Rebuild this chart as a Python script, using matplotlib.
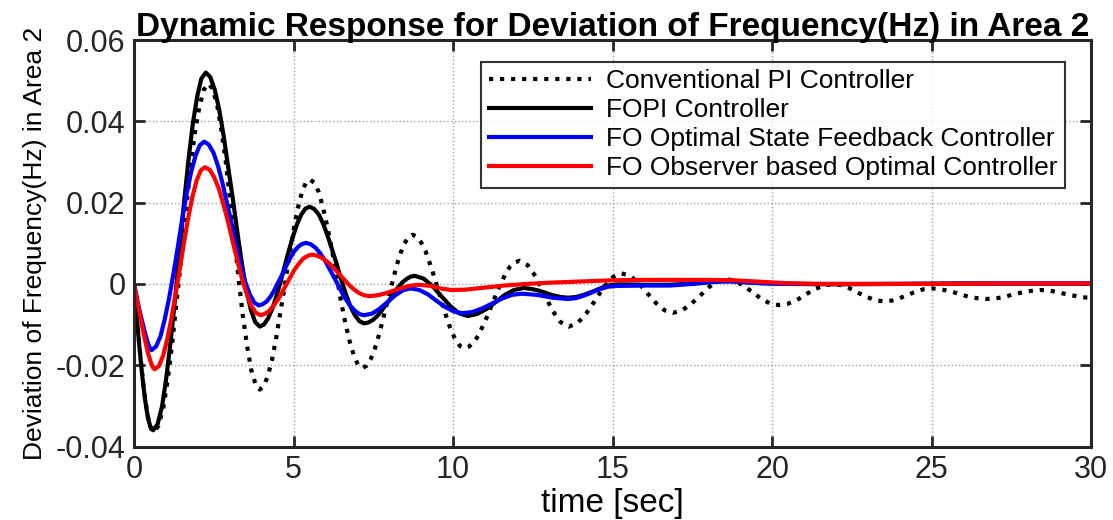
import matplotlib
matplotlib.use("Agg")
import matplotlib.pyplot as plt

# time / value pairs (deviation of frequency, area 2)
t_pi = [0, 0.05, 0.1, 0.15, 0.2, 0.25, 0.3, 0.35, 0.4, 0.45, 0.5, 0.56, 0.62,
        0.76, 0.91, 1.05, 1.19, 1.33, 1.48, 1.62, 1.76, 1.9, 2.05, 2.19, 2.33,
        2.46, 2.6, 2.73, 2.87, 3.0, 3.14, 3.27, 3.4, 3.54, 3.67, 3.81, 3.94,
        4.07, 4.2, 4.33, 4.46, 4.59, 4.73, 4.86, 4.99, 5.12, 5.25, 5.38, 5.51,
        5.65, 5.79, 5.92, 6.06, 6.2, 6.34, 6.47, 6.61, 6.75, 6.89, 7.02, 7.16,
        7.29, 7.42, 7.55, 7.68, 7.81, 7.95, 8.08, 8.21, 8.34, 8.47, 8.6, 8.73,
        8.87, 9.0, 9.14, 9.27, 9.41, 9.55, 9.68, 9.82, 9.95, 10.09, 10.22, 10.36,
        10.5, 10.65, 10.79, 10.93, 11.08, 11.22, 11.36, 11.51, 11.65, 11.79, 11.94, 12.08,
        12.34, 12.6, 12.86, 13.11, 13.37, 13.63,
        13.91, 14.18, 14.46, 14.73, 15.01, 15.28,
        15.55, 15.82, 16.09, 16.36, 16.63, 16.9,
        17.18, 17.45, 17.73, 18.0, 18.28, 18.55,
        18.83, 19.1, 19.38, 19.65, 19.93, 20.2,
        20.48, 20.77, 21.05, 21.33, 21.62, 21.9,
        22.17, 22.43, 22.7, 22.97, 23.23, 23.5,
        23.75, 24.0, 24.25, 24.5, 24.75, 25.0,
        25.28, 25.57, 25.85, 26.13, 26.42, 26.7,
        26.98, 27.27, 27.55, 27.83, 28.12, 28.4,
        28.67, 28.93, 29.2, 29.47, 29.73, 30.0]
pi_ctrl = [0, -0.0046, -0.0091, -0.0135, -0.0177, -0.0216, -0.0251, -0.0283, -0.0310, -0.0332, -0.0348, -0.0361, -0.0365,
           -0.0350, -0.0308, -0.0240, -0.0151, -0.0047, 0.0064, 0.0175, 0.0279, 0.0368, 0.0436, 0.0478, 0.0493,
           0.0480, 0.0443, 0.0383, 0.0305, 0.0214, 0.0117, 0.0019, -0.0072, -0.0150, -0.0210, -0.0247, -0.0260,
           -0.0251, -0.0225, -0.0185, -0.0131, -0.0068, -0.0002, 0.0065, 0.0128, 0.0182, 0.0222, 0.0248, 0.0257,
           0.0249, 0.0226, 0.0189, 0.0141, 0.0085, 0.0025, -0.0035, -0.0091, -0.0139, -0.0176, -0.0199, -0.0207,
           -0.0201, -0.0185, -0.0159, -0.0125, -0.0085, -0.0043, -0.0001, 0.0039, 0.0073, 0.0099, 0.0115, 0.0121,
           0.0116, 0.0102, 0.0080, 0.0051, 0.0017, -0.0019, -0.0054, -0.0088, -0.0117, -0.0139, -0.0153, -0.0158,
           -0.0154, -0.0144, -0.0127, -0.0104, -0.0078, -0.0051, -0.0023, 0.0003, 0.0026, 0.0043, 0.0053, 0.0057,
           0.0046, 0.0017, -0.0024, -0.0065, -0.0094, -0.0105,
           -0.0096, -0.0072, -0.0040, -0.0007, 0.0017, 0.0026,
           0.0020, 0.0002, -0.0023, -0.0047, -0.0065, -0.0071,
           -0.0065, -0.0050, -0.0030, -0.0009, 0.0006, 0.0012,
           0.0008, -0.0004, -0.0020, -0.0036, -0.0048, -0.0052,
           -0.0049, -0.0040, -0.0026, -0.0013, -0.0004, 0.0000,
           -0.0003, -0.0011, -0.0022, -0.0032, -0.0040, -0.0043,
           -0.0041, -0.0035, -0.0027, -0.0019, -0.0013, -0.0011,
           -0.0013, -0.0018, -0.0024, -0.0031, -0.0035, -0.0037,
           -0.0036, -0.0032, -0.0026, -0.0021, -0.0017, -0.0015,
           -0.0016, -0.0020, -0.0025, -0.0029, -0.0033, -0.0034]

t_fopi = [0, 0.05, 0.1, 0.15, 0.2, 0.25, 0.3, 0.35, 0.4, 0.45, 0.5, 0.55, 0.6,
          0.74, 0.88, 1.01, 1.15, 1.29, 1.43, 1.56, 1.7, 1.84, 1.98, 2.11, 2.25,
          2.39, 2.53, 2.67, 2.81, 2.95, 3.1, 3.24, 3.38, 3.52, 3.66, 3.8, 3.94,
          4.07, 4.2, 4.33, 4.46, 4.59, 4.72, 4.85, 4.98, 5.11, 5.24, 5.37, 5.5,
          5.64, 5.79, 5.93, 6.07, 6.21, 6.36, 6.5, 6.64, 6.78, 6.93, 7.07, 7.21,
          7.34, 7.48, 7.61, 7.74, 7.87, 8.01, 8.14, 8.27, 8.4, 8.54, 8.67, 8.8,
          9.08, 9.35, 9.63, 9.91, 10.18, 10.46,
          10.75, 11.04, 11.33, 11.62, 11.91, 12.2,
          12.43, 12.67, 12.9, 13.13, 13.37, 13.6,
          13.87, 14.13, 14.4, 14.67, 14.93, 15.2,
          16.0, 16.8, 17.5, 18.0, 18.5, 19.0, 19.6, 20.5,
          22.0, 24.0, 26.0, 28.0, 30.0]
fopi = [0, -0.0047, -0.0093, -0.0138, -0.0180, -0.0219, -0.0255, -0.0286, -0.0312, -0.0333, -0.0348, -0.0357, -0.0360,
        -0.0345, -0.0301, -0.0232, -0.0140, -0.0034, 0.0080, 0.0194, 0.0300, 0.0392, 0.0461, 0.0505, 0.0520,
        0.0509, 0.0478, 0.0429, 0.0364, 0.0288, 0.0208, 0.0127, 0.0051, -0.0014, -0.0063, -0.0094, -0.0105,
        -0.0100, -0.0085, -0.0062, -0.0031, 0.0004, 0.0043, 0.0081, 0.0116, 0.0147, 0.0170, 0.0185, 0.0190,
        0.0185, 0.0171, 0.0148, 0.0118, 0.0084, 0.0047, 0.0009, -0.0025, -0.0055, -0.0078, -0.0092, -0.0097,
        -0.0095, -0.0089, -0.0080, -0.0068, -0.0054, -0.0039, -0.0023, -0.0009, 0.0003, 0.0012, 0.0018, 0.0020,
        0.0013, -0.0005, -0.0030, -0.0054, -0.0072, -0.0079,
        -0.0074, -0.0062, -0.0045, -0.0027, -0.0015, -0.0010,
        -0.0012, -0.0016, -0.0022, -0.0028, -0.0032, -0.0034,
        -0.0032, -0.0026, -0.0018, -0.0009, -0.0003, -0.0001,
        -0.0002, -0.0002, 0.0001, 0.0005, 0.0008, 0.0006, 0.0002, 0.0000,
        -0.0001, 0.0000, 0.0001, 0.0001, 0.0001]

t_fosf = [0, 0.09, 0.18, 0.28, 0.37, 0.46, 0.51, 0.55,
          0.69, 0.83, 0.96, 1.1, 1.24, 1.38, 1.51, 1.65, 1.79, 1.93, 2.06, 2.2,
          2.34, 2.49, 2.63, 2.77, 2.91, 3.06, 3.2, 3.34, 3.48, 3.63, 3.77, 3.91,
          4.03, 4.16, 4.28, 4.4, 4.52, 4.65, 4.77, 4.89, 5.01, 5.14, 5.26, 5.38,
          5.53, 5.69, 5.84, 5.99, 6.14, 6.3, 6.45, 6.6, 6.75, 6.91, 7.06, 7.21,
          7.46, 7.7, 7.95, 8.19, 8.44, 8.68,
          8.95, 9.22, 9.49, 9.76, 10.03, 10.3,
          10.61, 10.92, 11.23, 11.53, 11.84, 12.15,
          12.63, 13.12, 13.6,
          13.85, 14.1, 14.35, 14.6, 14.85, 15.1,
          16.0, 16.8, 17.5, 18.2, 18.7, 19.3, 20.0,
          21.0, 22.0, 24.0, 26.0, 28.0, 30.0]
fosf = [0, -0.0035, -0.0068, -0.0100, -0.0128, -0.0151, -0.0159, -0.0163,
        -0.0154, -0.0129, -0.0088, -0.0035, 0.0027, 0.0094, 0.0160, 0.0222, 0.0275, 0.0316, 0.0341, 0.0350,
        0.0343, 0.0323, 0.0291, 0.0249, 0.0200, 0.0149, 0.0097, 0.0048, 0.0006, -0.0026, -0.0046, -0.0053,
        -0.0050, -0.0043, -0.0031, -0.0015, 0.0004, 0.0024, 0.0044, 0.0063, 0.0079, 0.0091, 0.0098, 0.0101,
        0.0098, 0.0089, 0.0075, 0.0057, 0.0035, 0.0012, -0.0011, -0.0033, -0.0051, -0.0065, -0.0074, -0.0077,
        -0.0073, -0.0061, -0.0044, -0.0028, -0.0015, -0.0011,
        -0.0015, -0.0026, -0.0042, -0.0057, -0.0068, -0.0072,
        -0.0069, -0.0060, -0.0048, -0.0036, -0.0027, -0.0024,
        -0.0027, -0.0034, -0.0037,
        -0.0035, -0.0029, -0.0021, -0.0013, -0.0007, -0.0005,
        -0.0004, -0.0004, 0.0000, 0.0005, 0.0006, 0.0003, 0.0001,
        0.0000, 0.0000, 0.0000, 0.0001, 0.0001, 0.0001]

t_foobs = [0, 0.11, 0.22, 0.33, 0.43, 0.54, 0.59, 0.65,
           0.78, 0.91, 1.04, 1.17, 1.3, 1.44, 1.57, 1.7, 1.83, 1.96, 2.09, 2.22,
           2.37, 2.51, 2.66, 2.8, 2.95, 3.09, 3.24, 3.38, 3.53, 3.67, 3.82, 3.96,
           4.09, 4.23, 4.36, 4.5, 4.63, 4.77, 4.9, 5.03, 5.17, 5.3, 5.44, 5.57,
           5.72, 5.87, 6.02, 6.17, 6.32, 6.47, 6.62, 6.77, 6.92, 7.07, 7.22, 7.37,
           7.63, 7.89, 8.16, 8.42, 8.68, 8.94,
           9.3, 9.6, 9.95, 10.4, 11.0, 11.6, 12.3, 13.0, 14.0, 15.0,
           16.0, 17.0, 18.0, 18.8, 19.5, 20.4, 21.5, 23.0, 25.0, 27.0, 30.0]
foobs = [0, -0.0046, -0.0090, -0.0132, -0.0168, -0.0196, -0.0205, -0.0210,
         -0.0202, -0.0177, -0.0137, -0.0086, -0.0026, 0.0039, 0.0103, 0.0163, 0.0214, 0.0254, 0.0279, 0.0287,
         0.0281, 0.0263, 0.0234, 0.0196, 0.0152, 0.0105, 0.0058, 0.0014, -0.0024, -0.0053, -0.0071, -0.0077,
         -0.0074, -0.0067, -0.0055, -0.0040, -0.0022, -0.0002, 0.0017, 0.0035, 0.0050, 0.0062, 0.0069, 0.0072,
         0.0070, 0.0065, 0.0057, 0.0047, 0.0034, 0.0021, 0.0008, -0.0005, -0.0015, -0.0023, -0.0028, -0.0030,
         -0.0028, -0.0023, -0.0016, -0.0009, -0.0004, -0.0002,
         -0.0005, -0.0011, -0.0015, -0.0014, -0.0009, -0.0004, 0.0000, 0.0003, 0.0006, 0.0009,
         0.0010, 0.0010, 0.0010, 0.0009, 0.0006, 0.0002, 0.0000, 0.0000, 0.0000, 0.0001, 0.0001]

labels = ["Conventional PI Controller", "FOPI Controller",
          "FO Optimal State Feedback Controller", "FO Observer based Optimal Controller"]
x_ticks = [0, 5, 10, 15, 20, 25, 30]
y_ticks = [-0.04, -0.02, 0, 0.02, 0.04, 0.06]
y_ticklabels = ["-0.04", "-0.02", "0", "0.02", "0.04", "0.06"]

plt.rcParams["font.family"] = ["Liberation Sans", "DejaVu Sans"]

fig = plt.figure(figsize=(11.13, 5.2), dpi=100)
ax = fig.add_axes([0.1204, 0.1413, 0.860, 0.7817])

ax.plot(t_pi, pi_ctrl, color="k", linestyle=":", linewidth=3, label=labels[0])
ax.plot(t_fopi, fopi, color="k", linewidth=3, label=labels[1])
ax.plot(t_fosf, fosf, color="b", linewidth=3, label=labels[2])
ax.plot(t_foobs, foobs, color="r", linewidth=3, label=labels[3])

ax.set_xlim(0, 30)
ax.set_ylim(-0.04, 0.06)
ax.set_xticks(x_ticks)
ax.set_xticklabels([str(v) for v in x_ticks], fontsize=22)
ax.set_yticks(y_ticks)
ax.set_yticklabels(y_ticklabels, fontsize=22)
ax.grid(True, color="#a0a0a0", linestyle=":", linewidth=1)
ax.tick_params(direction="in", length=8, width=2, top=True, right=True, colors="#262626",
               labelcolor="#262626", pad=6)
for s in ax.spines.values():
    s.set_linewidth(2.2)
    s.set_color("#262626")

ax.set_xlabel("time [sec]", fontsize=24, labelpad=2)
ax.set_ylabel("Deviation of Frequency(Hz) in Area 2", fontsize=19, labelpad=6)
ax.set_title("Dynamic Response for Deviation of Frequency(Hz) in Area 2",
             fontsize=24, fontweight="bold", pad=3)

leg = ax.legend(loc="upper right", bbox_to_anchor=(0.9725, 0.946), borderaxespad=0,
                fontsize=19, frameon=True, fancybox=False, handlelength=3.9,
                labelspacing=0.19, borderpad=0.28, handletextpad=0.55)
leg.get_frame().set_edgecolor("k")
leg.get_frame().set_linewidth(1.5)

fig.savefig("out.png", dpi=100)
